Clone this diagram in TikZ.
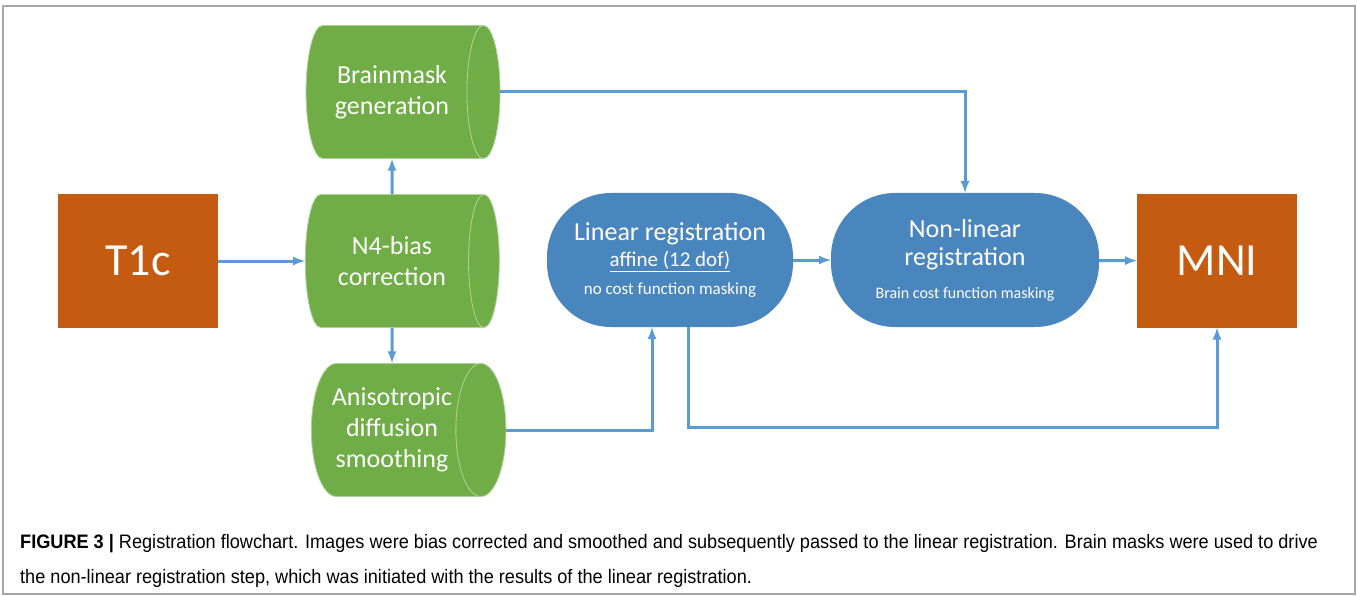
\documentclass[tikz,border=0pt]{standalone}
\usepackage{fontspec}
\setmainfont{Carlito}
\newfontfamily\capfont[FakeStretch=0.93]{Liberation Sans}
\usepackage{tikz}
\usetikzlibrary{shapes,arrows,shapes.misc,shapes.geometric}
\usetikzlibrary{positioning}
\definecolor{verde}{HTML}{70AD47}
\definecolor{arancio}{HTML}{C55A11}
\definecolor{blu}{HTML}{4A86BE}
\definecolor{freccia}{HTML}{5B9BD5}

\begin{document}
\begin{tikzpicture}[x=1pt,y=-1pt,
		img/.style={fill=arancio,text=white,minimum width=160pt,minimum height=133pt,font=\fontsize{46}{50}\selectfont},
		proc/.style={cylinder,aspect=0.55,fill=verde,draw=verde!55!white,line width=0.8pt,minimum height=194pt,minimum width=133pt,align=center,text=white,font=\fontsize{26}{31}\selectfont},
		reg/.style={rectangle,rounded corners=64pt,fill=blu,minimum height=134pt,align=center,text=white,font=\fontsize{26}{28}\selectfont},
		arr/.style={-latex,line width=3pt,draw=freccia}]
		\def\dx{18pt}% spostamento frecce verticali
		\useasboundingbox (0,0) rectangle (1357,596);
		\draw[gray!70,line width=1.5pt] (3,6) rectangle (1355,594);
		% immagini
		\node[img] (t1c) at (138,261) {T1c};
		\node[img] (mni) at (1217,261) {MNI};
		% preprocessing
		\node[proc] (mask) at (392,92) {Brainmask\\generation};
		\node[proc] (n4) at (392,261) {N4-bias\\correction};
		\node[proc] (smooth) at (392,430) {Anisotropic\\diffusion\\smoothing};
		% registrazioni
		\node[reg,minimum width=246pt] (lin) at (670,260) {Linear registration\\[-2pt]{\fontsize{21}{21}\selectfont\underline{affine (12 dof)}}\\{\fontsize{17}{17}\selectfont no cost function masking}};
		\node[reg,minimum width=268pt] (nonlin) at (965,260) {Non-linear\\registration\\[5pt]{\fontsize{16}{16}\selectfont Brain cost function masking}};
		\coordinate (fondo) at (0,427);
		% collegamenti
		\draw[arr] (t1c) -- (n4);
		\draw[arr] (n4.north) -- (mask.south);
		\draw[arr] (n4.south) -- (smooth.north);
		\draw[arr] (mask.east) -| (nonlin.north);
		\draw[arr] (smooth.east) -| ([xshift=-\dx]lin.south);
		\draw[arr] (lin) -- (nonlin);
		\draw[arr] (nonlin) -- (mni);
		\draw[arr] ([xshift=\dx]lin.south) -- ([xshift=\dx]lin.south |- fondo) -| (mni.south);
		% didascalia
		\node[anchor=base west,align=left,inner sep=0pt,font=\capfont\fontsize{19.5}{35}\selectfont] (didascalia) at (20,583) {\textbf{FIGURE 3 |} Registration flowchart. Images were bias corrected and smoothed and subsequently passed to the linear registration. Brain masks were used to drive\\the non-linear registration step, which was initiated with the results of the linear registration.};
	\end{tikzpicture}
\end{document}
